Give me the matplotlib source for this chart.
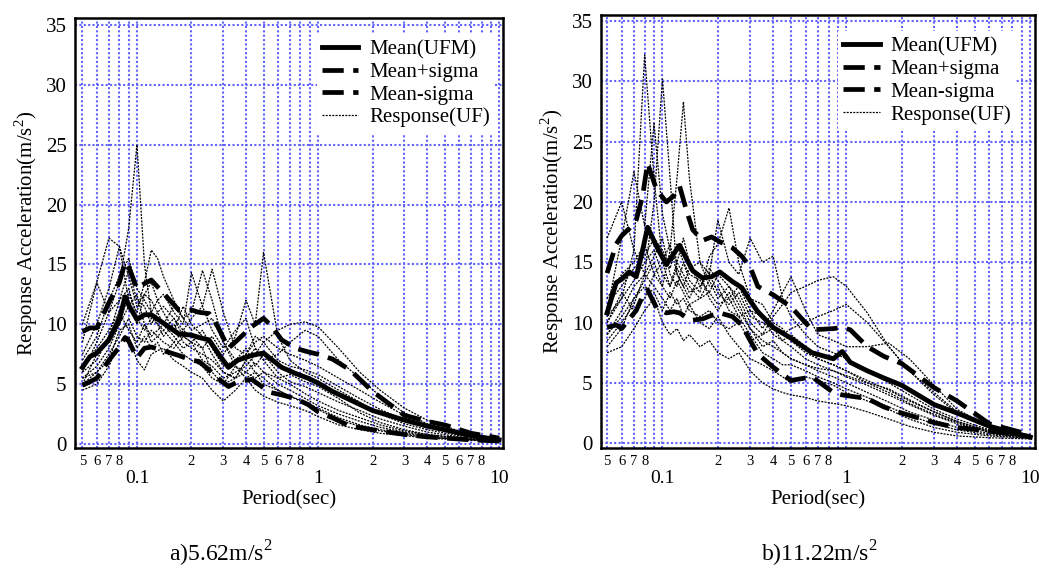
import matplotlib
matplotlib.use("Agg")
import matplotlib.pyplot as plt

plt.rcParams['font.family'] = ['Liberation Serif', 'DejaVu Serif']
plt.rcParams['mathtext.fontset'] = 'custom'
plt.rcParams['mathtext.rm'] = 'Liberation Serif'

# periods shared by the individual response spectra
period = [0.05, 0.06, 0.07, 0.08, 0.09, 0.1, 0.11, 0.12, 0.13, 0.14, 0.16, 0.18, 0.2, 0.23, 0.26,
          0.3, 0.35, 0.4, 0.45, 0.5, 0.6, 0.7, 0.85, 1.0, 1.3, 1.7, 2.2, 3, 4, 6, 10]

# ---- panel a) 5.62 m/s2 ----
resp_a = [
    [6.0, 8.5, 11.0, 13.5, 18.0, 25.0, 15.0, 11.0, 10.0, 9.5, 10.5, 9.0, 8.5, 9.5, 8.0, 6.5, 7.0, 8.0, 6.5, 7.5, 6.0, 5.2, 4.8, 4.3, 3.5, 2.8, 2.1, 1.5, 1.0, 0.6, 0.3],
    [8.5, 13.5, 17.2, 16.5, 12.0, 10.0, 12.5, 13.5, 12.0, 11.0, 9.5, 11.5, 10.0, 9.0, 7.5, 6.0, 5.5, 7.0, 8.0, 7.0, 5.5, 5.0, 4.2, 3.6, 2.8, 2.2, 1.6, 1.1, 0.8, 0.5, 0.25],
    [5.5, 6.5, 8.0, 10.0, 12.5, 11.0, 13.5, 16.2, 15.5, 14.0, 12.0, 10.5, 11.0, 14.5, 12.0, 8.5, 6.5, 6.0, 5.5, 6.0, 5.0, 4.5, 3.8, 3.2, 2.5, 1.9, 1.4, 1.0, 0.7, 0.45, 0.25],
    [5.0, 6.0, 7.5, 9.0, 10.5, 9.0, 8.5, 9.5, 9.0, 8.5, 8.0, 9.0, 8.5, 8.0, 9.0, 7.5, 9.0, 12.0, 10.0, 16.0, 9.0, 7.0, 6.0, 5.5, 4.5, 3.5, 2.5, 1.7, 1.2, 0.7, 0.35],
    [6.5, 8.0, 9.5, 11.0, 9.5, 8.5, 10.0, 9.0, 9.5, 10.0, 9.0, 8.0, 8.5, 7.0, 6.5, 5.5, 6.0, 6.5, 7.5, 8.5, 9.5, 10.0, 10.2, 9.8, 8.0, 6.0, 4.5, 3.0, 2.0, 1.1, 0.4],
    [4.5, 5.0, 6.5, 8.5, 9.0, 7.0, 6.2, 7.5, 7.8, 8.0, 7.0, 6.5, 6.0, 5.5, 4.5, 3.6, 4.5, 5.5, 4.5, 4.0, 3.5, 3.2, 2.8, 2.3, 1.6, 1.2, 0.9, 0.7, 0.5, 0.35, 0.2],
    [7.0, 9.0, 12.0, 14.0, 15.5, 13.0, 12.0, 11.0, 12.0, 12.5, 11.0, 10.0, 14.3, 11.5, 14.6, 11.0, 8.0, 7.5, 8.5, 9.0, 8.0, 7.5, 7.0, 6.5, 5.5, 4.5, 3.5, 2.4, 1.6, 0.9, 0.4],
    [10.0, 13.5, 11.0, 12.0, 14.5, 12.0, 11.5, 10.0, 11.0, 11.5, 10.5, 9.5, 10.5, 11.5, 9.5, 8.0, 9.5, 10.5, 8.0, 7.0, 7.5, 8.5, 9.5, 9.0, 7.0, 5.5, 4.0, 2.6, 1.7, 0.9, 0.4],
    [6.0, 7.0, 9.0, 12.0, 13.0, 10.5, 9.5, 10.5, 10.0, 9.0, 10.0, 8.5, 8.0, 7.5, 7.0, 6.0, 5.5, 6.0, 6.8, 6.0, 5.5, 5.8, 5.2, 4.8, 3.8, 2.6, 1.8, 1.2, 0.8, 0.5, 0.3],
    [5.0, 7.5, 8.5, 10.0, 11.5, 12.5, 10.0, 8.5, 9.0, 9.5, 8.5, 9.5, 9.0, 8.0, 6.0, 5.0, 6.5, 5.5, 6.0, 5.0, 4.5, 4.0, 3.5, 3.0, 2.2, 1.6, 1.2, 0.9, 0.6, 0.4, 0.25],
    [7.5, 10.0, 13.0, 16.5, 14.0, 11.5, 12.5, 12.0, 11.0, 10.0, 11.5, 10.5, 9.5, 10.0, 10.5, 8.5, 7.0, 7.5, 9.0, 8.5, 7.0, 6.5, 6.2, 5.8, 4.8, 3.8, 2.9, 2.0, 1.4, 0.8, 0.35],
    [5.5, 6.0, 7.0, 9.5, 10.0, 8.0, 9.0, 8.0, 8.5, 7.5, 8.5, 7.5, 7.0, 6.5, 5.5, 5.0, 5.5, 7.0, 6.0, 5.5, 4.5, 4.0, 3.4, 2.9, 2.0, 1.5, 1.1, 0.8, 0.55, 0.4, 0.25],
]
period_ma = [0.05, 0.055, 0.06, 0.07, 0.08, 0.086, 0.09, 0.1, 0.11, 0.12, 0.14, 0.17, 0.2, 0.22, 0.25, 0.28,
             0.32, 0.36, 0.43, 0.5, 0.55, 0.63, 0.75, 0.88, 1.0, 1.2, 1.5, 2, 3, 4, 5, 7, 10]
mean_a = [6.4, 7.3, 7.6, 8.7, 10.5, 12.3, 11.6, 10.4, 10.8, 10.8, 10.1, 9.2, 9.1, 8.9, 8.7, 7.6,
          6.4, 7.0, 7.4, 7.6, 7.1, 6.4, 5.9, 5.5, 5.1, 4.4, 3.7, 2.8, 2.0, 1.5, 1.2, 0.7, 0.35]
upper_a = [9.4, 9.7, 9.7, 11.8, 13.5, 15.2, 14.8, 13.0, 13.4, 13.7, 12.6, 11.2, 11.2, 11.0, 10.9, 9.8,
           8.0, 8.7, 9.8, 10.5, 9.9, 8.7, 8.0, 7.7, 7.5, 7.1, 6.2, 4.4, 2.4, 1.9, 1.6, 0.9, 0.5]
lower_a = [4.9, 5.2, 5.5, 7.0, 8.1, 8.9, 8.6, 7.2, 8.0, 8.1, 7.8, 7.4, 7.0, 6.9, 6.2, 5.5,
           4.8, 5.2, 5.4, 4.7, 4.3, 4.1, 3.8, 3.3, 2.7, 2.2, 1.5, 1.2, 0.8, 0.6, 0.5, 0.35, 0.25]

# ---- panel b) 11.22 m/s2 ----
resp_b = [
    [10.0, 12.0, 16.0, 32.2, 22.0, 15.0, 13.0, 15.0, 14.0, 13.0, 12.0, 13.5, 12.0, 13.0, 12.0, 10.0, 9.0, 9.5, 8.5, 8.0, 7.0, 6.5, 6.0, 5.5, 4.8, 4.0, 3.2, 2.3, 1.6, 0.9, 0.45],
    [9.0, 11.0, 13.0, 14.0, 20.0, 30.2, 22.0, 14.0, 13.0, 12.0, 14.0, 12.0, 11.0, 12.5, 11.0, 9.5, 8.0, 8.5, 7.5, 7.0, 6.5, 6.0, 5.5, 5.0, 4.2, 3.4, 2.6, 1.9, 1.3, 0.8, 0.45],
    [8.0, 9.5, 12.0, 13.5, 15.0, 13.0, 16.0, 22.0, 28.3, 22.0, 15.0, 13.0, 13.0, 11.0, 10.5, 9.0, 7.5, 7.0, 6.5, 6.5, 6.0, 5.5, 5.0, 4.5, 3.8, 3.0, 2.3, 1.6, 1.1, 0.7, 0.4],
    [11.0, 17.0, 22.5, 18.0, 26.5, 19.0, 16.0, 15.0, 17.0, 15.0, 13.0, 14.5, 13.5, 12.0, 13.0, 11.0, 10.5, 9.0, 8.5, 9.0, 8.0, 7.0, 6.5, 6.0, 5.2, 4.4, 3.5, 2.6, 1.8, 1.0, 0.5],
    [17.0, 20.0, 16.0, 14.0, 15.5, 17.0, 14.0, 13.0, 15.0, 13.5, 12.5, 15.5, 16.5, 19.5, 15.0, 12.0, 11.5, 10.0, 9.5, 8.5, 7.5, 7.0, 6.5, 6.0, 5.0, 4.2, 3.3, 2.4, 1.7, 0.9, 0.45],
    [12.0, 14.0, 15.0, 16.5, 14.0, 15.0, 16.5, 14.0, 13.0, 14.5, 15.0, 14.0, 18.5, 15.0, 14.0, 17.0, 15.0, 15.5, 12.0, 10.5, 9.0, 8.0, 7.5, 7.0, 6.0, 5.0, 4.0, 2.8, 2.0, 1.1, 0.55],
    [9.0, 10.5, 12.0, 13.0, 12.5, 11.0, 12.5, 11.5, 12.0, 11.0, 10.5, 11.0, 10.0, 9.5, 10.0, 8.5, 9.0, 10.5, 11.5, 12.5, 13.0, 13.5, 13.8, 13.0, 10.8, 8.0, 6.0, 4.0, 2.5, 1.3, 0.6],
    [10.0, 12.5, 11.0, 12.0, 14.0, 13.0, 12.0, 13.5, 12.5, 11.5, 12.0, 12.5, 11.5, 12.0, 10.5, 11.0, 9.5, 11.0, 12.5, 13.8, 11.0, 9.0, 8.5, 8.0, 8.0, 8.3, 7.0, 4.8, 2.8, 1.4, 0.6],
    [7.5, 8.0, 9.5, 11.0, 12.0, 10.0, 9.0, 9.5, 8.5, 9.0, 8.0, 8.5, 7.5, 7.0, 7.5, 6.0, 5.0, 4.5, 4.2, 4.0, 3.8, 3.5, 3.3, 3.1, 2.6, 2.0, 1.4, 0.9, 0.6, 0.45, 0.35],
    [11.5, 13.0, 14.5, 15.5, 17.0, 16.0, 14.5, 16.5, 15.0, 14.0, 13.5, 12.5, 14.0, 13.0, 11.5, 9.5, 8.5, 8.0, 7.5, 7.0, 6.5, 6.2, 6.0, 5.6, 5.0, 4.5, 3.6, 2.6, 1.8, 1.0, 0.5],
    [8.5, 10.0, 11.5, 14.0, 13.0, 12.0, 11.0, 12.0, 10.5, 11.5, 10.0, 9.5, 10.5, 9.0, 8.0, 7.0, 6.5, 6.0, 5.5, 5.0, 5.5, 5.2, 4.8, 4.2, 3.5, 2.8, 2.0, 1.3, 0.9, 0.6, 0.4],
    [10.5, 12.0, 13.5, 15.0, 16.0, 14.0, 13.0, 14.5, 13.5, 12.5, 13.0, 14.0, 12.5, 11.5, 12.5, 10.5, 10.0, 9.5, 9.0, 9.5, 10.0, 10.5, 11.0, 11.5, 10.0, 8.0, 6.0, 4.2, 2.6, 1.3, 0.6],
]
period_mb = [0.05, 0.056, 0.06, 0.066, 0.072, 0.078, 0.083, 0.093, 0.105, 0.115, 0.124, 0.135, 0.146, 0.165,
             0.185, 0.205, 0.24, 0.27, 0.3, 0.33, 0.4, 0.5, 0.65, 0.85, 0.95, 1.05, 1.3, 1.6, 2, 3, 4, 6, 10]
mean_b = [10.8, 13.3, 13.6, 14.2, 13.8, 16.0, 17.9, 16.3, 14.8, 15.7, 16.4, 15.3, 14.3, 13.7,
          13.8, 14.2, 13.4, 12.9, 11.8, 10.9, 9.6, 8.7, 7.5, 7.0, 7.6, 6.7, 6.0, 5.4, 4.8, 3.2, 2.5, 1.4, 0.5]
upper_b = [14.1, 16.5, 17.2, 17.8, 18.5, 20.5, 23.2, 21.0, 20.0, 20.5, 21.3, 19.3, 17.7, 16.8,
           17.1, 16.7, 16.2, 15.5, 14.6, 13.0, 12.3, 11.3, 9.4, 9.5, 9.6, 9.4, 8.0, 7.2, 6.6, 4.6, 3.5, 1.6, 0.7]
lower_b = [9.6, 9.8, 9.5, 10.3, 11.0, 12.2, 12.7, 11.2, 10.8, 10.9, 10.8, 10.4, 10.2, 10.3,
           10.6, 10.8, 10.5, 9.8, 8.5, 7.4, 6.3, 5.2, 5.5, 4.2, 4.0, 3.9, 3.7, 3.0, 2.5, 1.7, 1.3, 1.0, 0.55]

major_ticks = [0.1, 1, 10]
major_labels = ['0.1', '1', '10']
minor_ticks = [0.05, 0.06, 0.07, 0.08, 0.09, 0.2, 0.3, 0.4, 0.5, 0.6, 0.7, 0.8, 0.9,
               2, 3, 4, 5, 6, 7, 8, 9]
minor_labels = ['5', '6', '7', '8', '', '2', '3', '4', '5', '6', '7', '8', '',
                '2', '3', '4', '5', '6', '7', '8', '']
yticks = [0, 5, 10, 15, 20, 25, 30, 35]

grid_col = '#6262ff'

fig = plt.figure(figsize=(10.39, 5.71), dpi=100)
ax_a = fig.add_axes([0.0722, 0.2154, 0.4119, 0.7531])
ax_b = fig.add_axes([0.5784, 0.2154, 0.4177, 0.7583])

panels = [
    (ax_a, resp_a, period_ma, mean_a, upper_a, lower_a, (0.0455, 10.5), (-0.33, 35.58), (0.565, 0.962)),
    (ax_b, resp_b, period_mb, mean_b, upper_b, lower_b, (0.0463, 10.6), (-0.4, 35.5), (0.546, 0.962)),
]

for ax, resp, pm, mean, upper, lower, xl, yl, leg_xy in panels:
    ax.set_xscale('log')
    for k, r in enumerate(resp):
        ax.plot(period, r, color='black', lw=0.9, ls=(0, (1.6, 1.0)),
                label='Response(UF)' if k == 0 else None, zorder=2)
    ax.plot(pm, mean, color='black', lw=3.5, label='Mean(UFM)', zorder=4,
            solid_joinstyle='round')
    ax.plot(pm, upper, color='black', lw=3.4, ls=(0, (4.5, 2.0)), label='Mean+sigma', zorder=4)
    ax.plot(pm, lower, color='black', lw=3.4, ls=(0, (4.5, 2.0)), label='Mean-sigma', zorder=4)

    ax.set_xlim(*xl)
    ax.set_ylim(*yl)
    ax.set_xticks(major_ticks, major_labels)
    ax.set_xticks(minor_ticks, minor_labels, minor=True)
    ax.set_yticks(yticks)
    ax.tick_params(axis='x', which='major', length=0, pad=16, labelsize=14)
    ax.tick_params(axis='x', which='minor', length=0, pad=5, labelsize=10.5)
    ax.tick_params(axis='y', length=0, pad=6, labelsize=15)
    ax.grid(True, which='both', color=grid_col, lw=1.5, ls=(0, (1, 1.1)))
    ax.set_axisbelow(True)
    for s in ax.spines.values():
        s.set_linewidth(1.8)
        s.set_zorder(6)

    ax.set_xlabel('Period(sec)', fontsize=15, labelpad=2)
    ax.set_ylabel(r'Response Acceleration(m/s$^2$)', fontsize=15, labelpad=4)

    h, lab = ax.get_legend_handles_labels()
    order = ['Mean(UFM)', 'Mean+sigma', 'Mean-sigma', 'Response(UF)']
    hh = [h[lab.index(o)] for o in order]
    leg = ax.legend(hh, order, loc='upper left', bbox_to_anchor=leg_xy, fontsize=15,
                    frameon=True, facecolor='white', edgecolor='none', framealpha=1,
                    fancybox=False, borderaxespad=0, borderpad=0.25, labelspacing=0.15,
                    handlelength=1.75, handletextpad=0.5)
    leg.set_zorder(5)

fig.text(0.212, 0.004, r'a)5.62m/s$^2$', fontsize=17, ha='center', va='bottom')
fig.text(0.789, 0.004, r'b)11.22m/s$^2$', fontsize=17, ha='center', va='bottom')

fig.savefig('out.png', dpi=100)
